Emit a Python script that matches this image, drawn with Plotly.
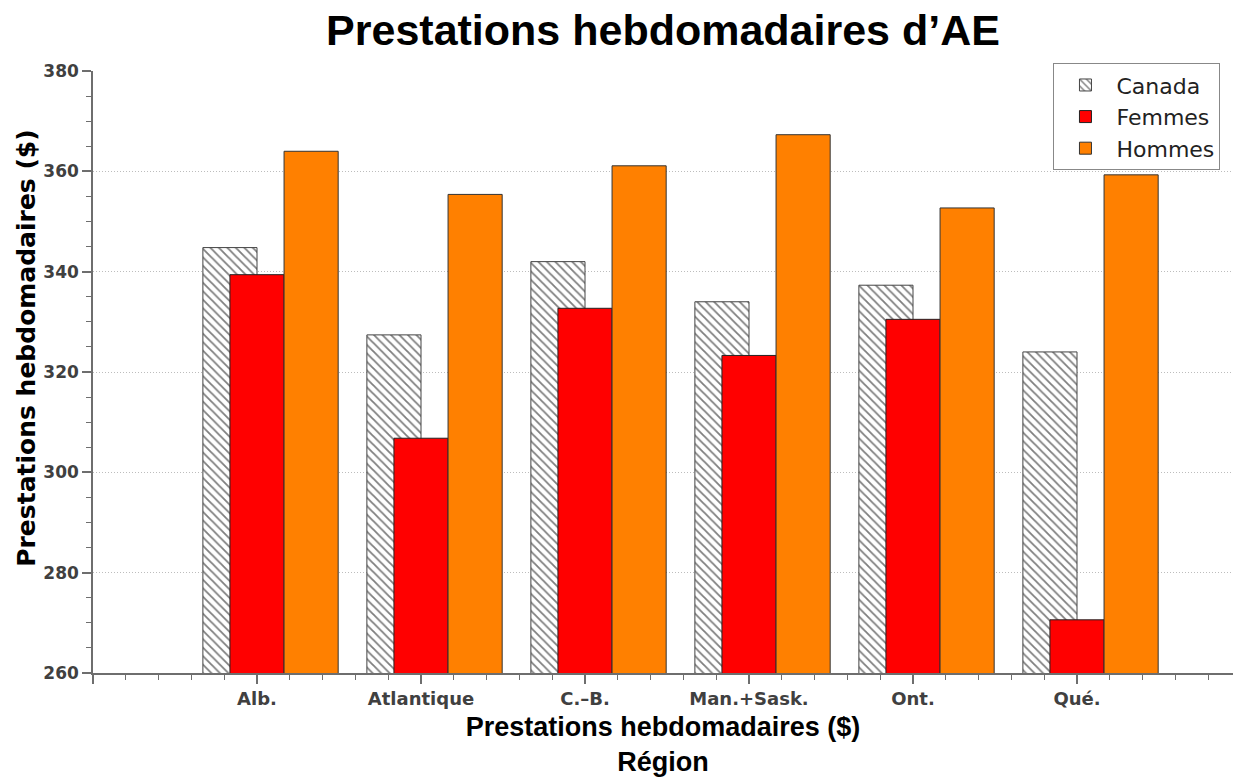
import plotly.graph_objects as go

# ---- data ----
regions = ["Alb.", "Atlantique", "C.–B.", "Man.+Sask.", "Ont.", "Qué."]
canada = [344.8, 327.4, 342.0, 334.0, 337.3, 324.0]
femmes = [339.4, 306.8, 332.7, 323.3, 330.5, 270.6]
hommes = [364.0, 355.4, 361.1, 367.3, 352.7, 359.3]
series_names = ["Canada", "Femmes", "Hommes"]

title_text = "Prestations hebdomadaires d’AE"
y_title = "Prestations hebdomadaires ($)"
x_title = "Prestations hebdomadaires ($)<br>Région"

# ---- styling ----
xpos = list(range(len(regions)))
bar_w = 0.33
axis_col = "#6e6e6e"
ytick_font = dict(family="DejaVu Sans", size=17, color="#404040", weight="bold")
xtick_font = dict(family="DejaVu Sans", size=18, color="#404040", weight="bold")

fig = go.Figure()
fig.add_trace(go.Bar(
    x=xpos, y=canada, name=series_names[0], width=bar_w, offset=-bar_w,
    marker=dict(color="white",
                pattern=dict(shape="\\", size=6, solidity=0.3, fgcolor="#000000", bgcolor="white"),
                line=dict(color="#444444", width=1)),
))
fig.add_trace(go.Bar(
    x=xpos, y=femmes, name=series_names[1], width=bar_w, offset=-bar_w / 2,
    marker=dict(color="#FF0000", line=dict(color="#222222", width=1)),
))
fig.add_trace(go.Bar(
    x=xpos, y=hommes, name=series_names[2], width=bar_w, offset=bar_w / 2,
    marker=dict(color="#FF8000", line=dict(color="#333333", width=1)),
))

fig.update_layout(
    width=1233, height=777,
    barmode="overlay",
    paper_bgcolor="white", plot_bgcolor="white",
    margin=dict(l=93, r=0, t=71, b=104, autoexpand=False),
    title=dict(text=title_text, x=0.5, xref="paper", xanchor="center",
               y=0.962, yref="container", yanchor="middle",
               font=dict(family="Liberation Sans", size=43, color="black", weight="bold")),
    legend=dict(x=0.989, y=1.013, xanchor="right", yanchor="top",
                bgcolor="white", bordercolor="#888888", borderwidth=1,
                font=dict(family="DejaVu Sans", size=22, color="#222222"),
                itemwidth=52, traceorder="normal"),
    showlegend=True,
    annotations=[dict(text=y_title, textangle=-90, showarrow=False,
                      xref="paper", yref="paper", x=-0.058, y=0.54,
                      xanchor="center", yanchor="middle",
                      font=dict(family="DejaVu Sans", size=25, color="black", weight="bold"))],
)

fig.update_xaxes(
    range=[-1, -1 + (1233 - 93) / 164],
    automargin=False,
    tickmode="array",
    tickvals=[-1] + xpos, ticktext=[""] + regions,
    ticks="outside", ticklen=9, tickwidth=1.5, tickcolor=axis_col,
    showline=True, linecolor=axis_col, linewidth=1.5,
    showgrid=False, zeroline=False,
    tickfont=xtick_font,
    minor=dict(tickmode="linear", tick0=0, dtick=0.2, ticks="outside", ticklen=5,
               tickcolor=axis_col, tickwidth=1.2, showgrid=False),
    title=dict(text=x_title, standoff=18,
               font=dict(family="Liberation Sans", size=27, color="black", weight="bold")),
)
fig.update_yaxes(
    range=[260, 380], tick0=260, dtick=20,
    automargin=False,
    ticks="outside", ticklen=9, tickwidth=1.5, tickcolor=axis_col,
    showline=True, linecolor=axis_col, linewidth=1.5,
    showgrid=True, gridcolor="#bdbdbd", gridwidth=1, griddash="1px,2px",
    zeroline=False,
    tickfont=ytick_font,
    minor=dict(tick0=260, dtick=5, ticks="outside", ticklen=5,
               tickcolor=axis_col, tickwidth=1.2, showgrid=False),
)

fig.write_html("out.html", config={"displayModeBar": False},
               post_script="document.body.style.margin='0';")
